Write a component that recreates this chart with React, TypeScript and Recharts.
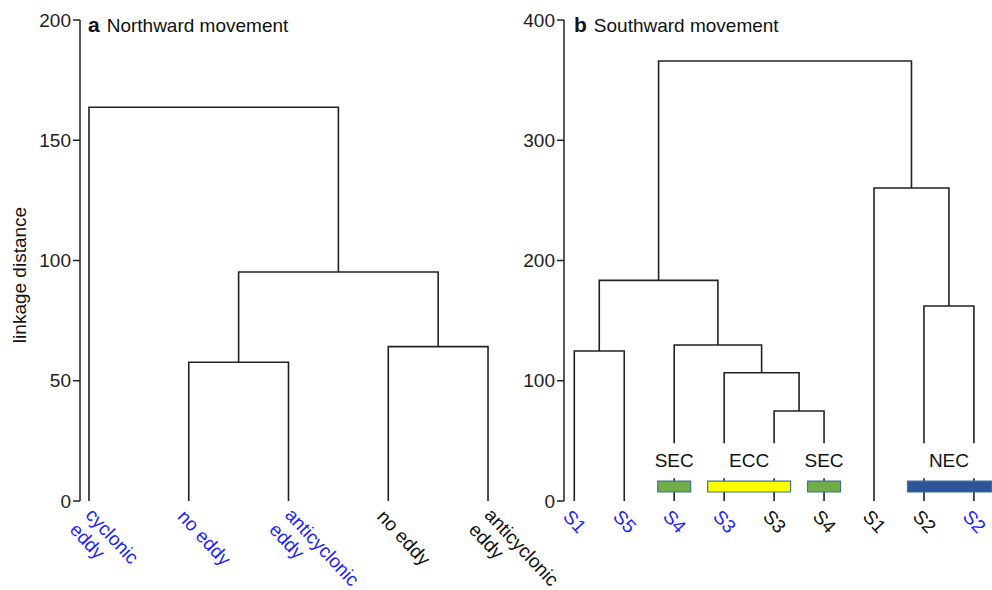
import React from "react";
import {
  LineChart,
  Line,
  XAxis,
  YAxis,
  ReferenceArea,
  Customized,
} from "recharts";

// panel a: northward movement
const northLeaves = ["cyclonic\neddy", "no eddy", "anticyclonic\neddy", "no eddy", "anticyclonic\neddy"];
const northHighlight = [true, true, true, false, false];
// [childA, childB, linkage distance]; new clusters get ids after the leaves
const northMerges = [
  [1, 2, 57.7],
  [3, 4, 64.2],
  [5, 6, 95.2],
  [0, 7, 163.7],
];
const northTicks = [0, 50, 100, 150, 200];

// panel b: southward movement
const southLeaves = ["S1", "S5", "S4", "S3", "S3", "S4", "S1", "S2", "S2"];
const southHighlight = [true, true, true, true, false, false, false, false, true];
const southMerges = [
  [0, 1, 124.7],
  [4, 5, 74.8],
  [3, 10, 106.7],
  [2, 11, 129.7],
  [9, 12, 183.5],
  [7, 8, 162.2],
  [6, 14, 260.3],
  [13, 15, 365.9],
];
const southTicks = [0, 100, 200, 300, 400];
const southBands = [
  { name: "SEC", first: 2, last: 2 },
  { name: "ECC", first: 3, last: 4 },
  { name: "SEC", first: 5, last: 5 },
  { name: "NEC", first: 7, last: 8 },
];

const FONT = "'Liberation Sans', Arial, sans-serif";
const INK = "#222";
const BLUE = "#1f1fff";
const bandFill: Record<string, string> = { SEC: "#70ad47", ECC: "#ffff00", NEC: "#2f5597" };

function buildLinks(nLeaves: number, merges: number[][]) {
  const pos: number[] = [];
  const hgt: number[] = [];
  for (let i = 0; i < nLeaves; i++) {
    pos.push(i);
    hgt.push(0);
  }
  return merges.map(([a, b, h]) => {
    const link = [
      { x: pos[a], y: hgt[a] },
      { x: pos[a], y: h },
      { x: pos[b], y: h },
      { x: pos[b], y: hgt[b] },
    ];
    pos.push((pos[a] + pos[b]) / 2);
    hgt.push(h);
    return link;
  });
}

const LeafTick = (props: any) => {
  const { x, y, payload, names, highlight } = props;
  const i = payload.value;
  const lines: string[] = names[i].split("\n");
  const multi = lines.length > 1;
  return (
    <g transform={`translate(${x},${y + 5}) rotate(47)`}>
      <text
        fontSize={19}
        fontFamily={FONT}
        fill={highlight[i] ? BLUE : "#111"}
        textAnchor="start"
      >
        {lines.map((l, k) => (
          <tspan key={k} x={multi ? 4 : 0} y={(multi ? 10 : 16.7) + k * 21.5}>
            {l}
          </tspan>
        ))}
      </text>
    </g>
  );
};

const Title = ({ x, y, tag, text }: { x: number; y: number; tag: string; text: string }) => (
  <text x={x} y={y} fontSize={19} fontFamily={FONT} fill="#111">
    <tspan fontWeight="bold" fontSize={21}>{tag}</tspan>
    <tspan dx={7}>{text}</tspan>
  </text>
);

const northLinks = buildLinks(northLeaves.length, northMerges);
const southLinks = buildLinks(southLeaves.length, southMerges);

const App: React.FC = () => {
  return (
    <div style={{ position: "relative", width: 992, height: 590, fontFamily: FONT, background: "#fff" }}>
      <style>{`body{margin:0}`}</style>
      <div style={{ position: "absolute", left: 0, top: 0 }}>
        <LineChart
          width={600}
          height={590}
          margin={{ top: 20, right: 100, bottom: 0, left: 0 }}
          style={{ overflow: "visible" }}
        >
          <XAxis
            dataKey="x"
            type="number"
            domain={[-0.09, 4.12]}
            allowDataOverflow
            ticks={northLeaves.map((_, i) => i)}
            interval={0}
            axisLine={false}
            tickLine={false}
            tickSize={0}
            tickMargin={0}
            height={89}
            tick={(p: any) => <LeafTick {...p} names={northLeaves} highlight={northHighlight} />}
          />
          <YAxis
            type="number"
            domain={[0, 200]}
            ticks={northTicks}
            interval={0}
            width={80}
            tickSize={7}
            tickMargin={2}
            tick={{ fill: INK, fontSize: 19, fontFamily: FONT }}
            axisLine={{ stroke: INK, strokeWidth: 1.5 }}
            tickLine={{ stroke: INK, strokeWidth: 1.5 }}
          />
          {northLinks.map((link, k) => (
            <Line
              key={k}
              data={link}
              dataKey="y"
              type="linear"
              stroke={INK}
              strokeWidth={1.6}
              dot={false}
              activeDot={false}
              isAnimationActive={false}
            />
          ))}
          <Customized
            component={() => (
              <g>
                <Title x={88} y={32} tag="a" text="Northward movement" />
                <text
                  x={26}
                  y={275}
                  transform="rotate(-90 26 275)"
                  textAnchor="middle"
                  fontSize={19}
                  fontFamily={FONT}
                  fill="#111"
                >
                  linkage distance
                </text>
              </g>
            )}
          />
        </LineChart>
      </div>
      <div style={{ position: "absolute", left: 500, top: 0 }}>
        <LineChart
          width={492}
          height={590}
          margin={{ top: 20, right: 0, bottom: 0, left: 0 }}
          style={{ overflow: "visible" }}
        >
          <XAxis
            dataKey="x"
            type="number"
            domain={[-0.206, 8.362]}
            allowDataOverflow
            ticks={southLeaves.map((_, i) => i)}
            interval={0}
            axisLine={false}
            tickLine={false}
            tickSize={0}
            tickMargin={0}
            height={89}
            tick={(p: any) => <LeafTick {...p} names={southLeaves} highlight={southHighlight} />}
          />
          <YAxis
            type="number"
            domain={[0, 400]}
            ticks={southTicks}
            interval={0}
            width={64}
            tickSize={7}
            tickMargin={2}
            tick={{ fill: INK, fontSize: 19, fontFamily: FONT }}
            axisLine={{ stroke: INK, strokeWidth: 1.5 }}
            tickLine={{ stroke: INK, strokeWidth: 1.5 }}
          />
          {southLinks.map((link, k) => (
            <Line
              key={k}
              data={link}
              dataKey="y"
              type="linear"
              stroke={INK}
              strokeWidth={1.6}
              dot={false}
              activeDot={false}
              isAnimationActive={false}
            />
          ))}
          {southBands.map((b, k) => (
            <ReferenceArea
              key={`gap${k}`}
              x1={b.first - 0.33}
              x2={Math.min(b.last + 0.33, 8.36)}
              y1={19}
              y2={48}
              fill="#fff"
              fillOpacity={1}
              stroke="none"
              ifOverflow="hidden"
              zIndex={700}
              label={{ value: b.name, position: "center", fontSize: 19, fill: "#111", fontFamily: FONT }}
            />
          ))}
          {southBands.map((b, k) => (
            <ReferenceArea
              key={`band${k}`}
              x1={b.first - 0.33}
              x2={b.name === "NEC" ? 8.36 : b.last + 0.33}
              y1={7.5}
              y2={16.6}
              fill={bandFill[b.name]}
              fillOpacity={1}
              stroke="#41719c"
              strokeWidth={1.2}
              ifOverflow="hidden"
              zIndex={710}
            />
          ))}
          <Customized component={() => <Title x={74} y={32} tag="b" text="Southward movement" />} />
        </LineChart>
      </div>
    </div>
  );
};

export default App;
